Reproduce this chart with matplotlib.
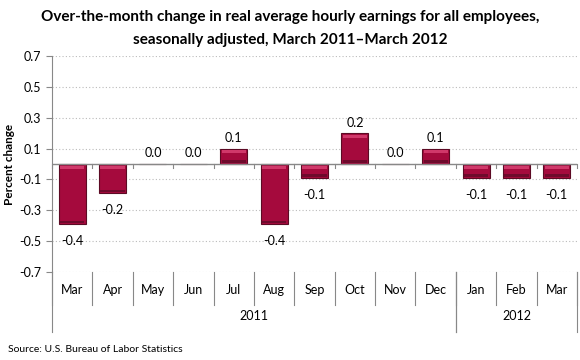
import numpy as np
import matplotlib.pyplot as plt
from matplotlib.transforms import blended_transform_factory

# Dados
meses = ['Mar', 'Apr', 'May', 'Jun', 'Jul', 'Aug', 'Sep', 'Oct', 'Nov', 'Dec', 'Jan', 'Feb', 'Mar']
valores = [-0.39, -0.19, 0.0, 0.0, 0.1, -0.39, -0.09, 0.2, 0.0, 0.1, -0.09, -0.09, -0.09]
rotulos = ['-0.4', '-0.2', '0.0', '0.0', '0.1', '-0.4', '-0.1', '0.2', '0.0', '0.1', '-0.1', '-0.1', '-0.1']
anos = ['2011', '2012']
meses_por_ano = [10, 3]
yticks = [0.7, 0.5, 0.3, 0.1, -0.1, -0.3, -0.5, -0.7]

plt.rcParams['font.family'] = ['Lato', 'DejaVu Sans']

fig = plt.figure(figsize=(5.8, 3.6), dpi=100)
ax = fig.add_axes([52 / 580, 1 - 272 / 360, 525 / 580, 216 / 360])

x = np.arange(len(meses))
v = np.array(valores)
topo = np.maximum(v, 0)
base = np.minimum(v, 0)
ax.bar(x, v, width=0.67, color='#A50A3D', edgecolor='#5C0A24', linewidth=0.8, zorder=3)
# efeito de relevo: faixa clara em cima, escura embaixo
tem = v != 0
ax.bar(x[tem], 0.02, width=0.6, bottom=topo[tem] - 0.03, color='#D0386A', linewidth=0, zorder=3)
ax.bar(x[tem], 0.015, width=0.6, bottom=base[tem] + 0.008, color='#6E0A2C', linewidth=0, zorder=3)

for xi, val, r in zip(x, valores, rotulos):
    if val < 0:
        ax.text(xi, val - 0.07, r, ha='center', va='top', fontsize=9, color='black')
    else:
        ax.text(xi, val + 0.03, r, ha='center', va='bottom', fontsize=9, color='black')

ax.set_xlim(-0.5, len(meses) - 0.5)
ax.set_ylim(-0.7, 0.7)
ax.set_yticks(yticks)
ax.set_yticklabels([f'{t:.1f}' for t in yticks], fontsize=9)
ax.yaxis.grid(True, linestyle=(0, (1, 2)), color='#BBBBBB', linewidth=0.8, zorder=0)
ax.set_xticks([])
ax.tick_params(axis='y', length=4, color='#888888')
for s in ['top', 'right', 'bottom']:
    ax.spines[s].set_visible(False)
ax.spines['left'].set_color('#888888')
ax.axhline(0, color='#888888', linewidth=1, zorder=4)
ax.set_ylabel('Percent change', fontsize=8.5, fontweight='bold', labelpad=3)

# eixo de categorias
tr = blended_transform_factory(ax.transData, ax.transAxes)
for b in np.arange(-0.5, len(meses), 1.0):
    ax.plot([b, b], [0.5, 0.5 - 4 / 216], transform=tr, color='#888888', linewidth=0.8, clip_on=False)
    ax.plot([b, b], [0, -33 / 216], transform=tr, color='#888888', linewidth=0.8, clip_on=False)
for xi, m in zip(x, meses):
    ax.text(xi, -18 / 216, m, transform=tr, ha='center', va='center', fontsize=9)

inicio = -0.5
for ano, n in zip(anos, meses_por_ano):
    fim = inicio + n
    ax.plot([inicio, inicio], [0, -60 / 216], transform=tr, color='#888888', linewidth=0.8, clip_on=False)
    ax.plot([fim, fim], [0, -60 / 216], transform=tr, color='#888888', linewidth=0.8, clip_on=False)
    ax.text((inicio + fim) / 2, -44 / 216, ano, transform=tr, ha='center', va='center', fontsize=9)
    inicio = fim

fig.text(0.5, 1 - 17 / 360, 'Over-the-month change in real average hourly earnings for all employees,',
         ha='center', va='center', fontsize=11, fontweight='bold')
fig.text(0.5, 1 - 40 / 360, 'seasonally adjusted, March 2011\u2013March 2012',
         ha='center', va='center', fontsize=11, fontweight='bold')
fig.text(8 / 580, 1 - 349 / 360, 'Source: U.S. Bureau of Labor Statistics', ha='left', va='center', fontsize=7.5)

plt.savefig('out.png', dpi=100)
